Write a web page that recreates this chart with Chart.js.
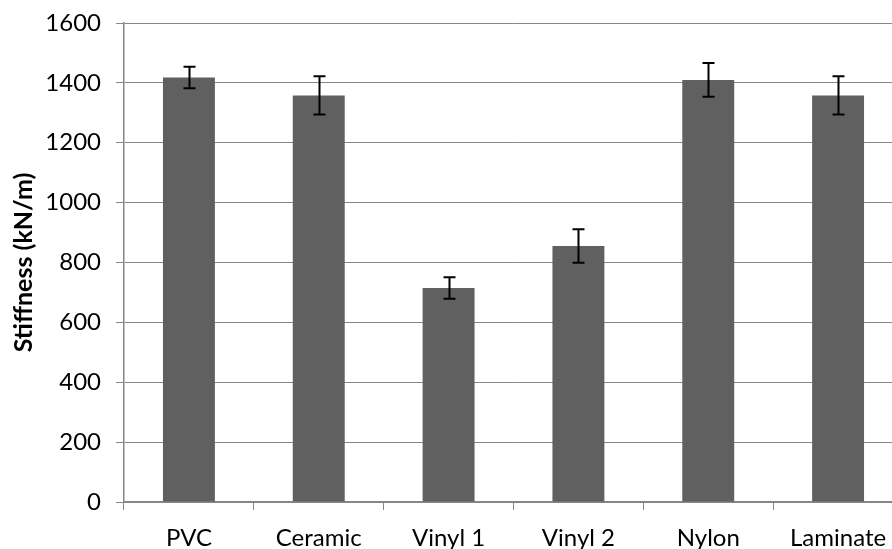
<!DOCTYPE html>
<html>
<head>
<meta charset="utf-8">
<script src="https://cdn.jsdelivr.net/npm/chart.js@4.4.0/dist/chart.umd.min.js"></script>
<style>
  html, body { margin: 0; padding: 0; background: #ffffff; overflow: hidden; }
  #wrap { width: 903px; height: 549px; }
</style>
</head>
<body>
<div id="wrap"><canvas id="c" width="903" height="549"></canvas></div>
<script>
const categories = ["PVC", "Ceramic", "Vinyl 1", "Vinyl 2", "Nylon", "Laminate"];
const stiffness = [1418, 1358, 715, 855, 1410, 1358];
const stiffnessError = [36, 64, 36, 56, 56, 64];
const yTicks = [0, 200, 400, 600, 800, 1000, 1200, 1400, 1600];
const yTitle = "Stiffness (kN/m)";

const FONT = "Lato";
const GRID = "#868686";

const errorBars = {
  id: "errorBars",
  afterDatasetsDraw(chart) {
    const ctx = chart.ctx;
    const yScale = chart.scales.y;
    chart.data.datasets.forEach((ds, di) => {
      const meta = chart.getDatasetMeta(di);
      const errs = ds.errors || [];
      meta.data.forEach((el, i) => {
        const v = ds.data[i];
        const e = errs[i];
        if (e == null) return;
        const x = Math.round(el.x) + 0.5;
        const yt = yScale.getPixelForValue(v + e);
        const yb = yScale.getPixelForValue(v - e);
        const cap = 6;
        ctx.save();
        ctx.strokeStyle = "#000000";
        ctx.lineWidth = 2;
        ctx.beginPath();
        ctx.moveTo(x, yt); ctx.lineTo(x, yb);
        ctx.moveTo(x - cap, yt); ctx.lineTo(x + cap, yt);
        ctx.moveTo(x - cap, yb); ctx.lineTo(x + cap, yb);
        ctx.stroke();
        ctx.restore();
      });
    });
  }
};

new Chart(document.getElementById("c"), {
  type: "bar",
  data: {
    labels: categories,
    datasets: [{
      data: stiffness,
      errors: stiffnessError,
      backgroundColor: "#606060",
      borderWidth: 0,
      barPercentage: 0.4,
      categoryPercentage: 1.0
    }]
  },
  plugins: [errorBars],
  options: {
    responsive: false,
    devicePixelRatio: 1,
    animation: false,
    layout: { padding: { top: 23, right: 0, bottom: 0, left: 0 } },
    plugins: {
      legend: { display: false },
      tooltip: { enabled: false }
    },
    scales: {
      x: {
        offset: true,
        grid: {
          display: true,
          offset: true,
          drawOnChartArea: false,
          drawTicks: true,
          tickLength: 8,
          color: GRID,
          lineWidth: 1
        },
        border: { display: true, color: GRID, width: 1.5 },
        ticks: {
          color: "#000000",
          font: { family: FONT, size: 24 },
          padding: 14,
          maxRotation: 0,
          autoSkip: false
        },
        afterFit(scale) { scale.height = 47; }
      },
      y: {
        min: 0,
        max: 1600,
        afterBuildTicks(scale) { scale.ticks = yTicks.map(v => ({ value: v })); },
        grid: {
          color: GRID,
          lineWidth: 1,
          drawTicks: true,
          tickLength: 8
        },
        border: { display: true, color: GRID, width: 1.5 },
        ticks: {
          color: "#000000",
          font: { family: FONT, size: 24 },
          padding: 15,
          callback: (v) => String(v)
        },
        title: {
          display: true,
          text: yTitle,
          color: "#000000",
          font: { family: FONT, size: 25, weight: "bold" },
          padding: { top: 9, bottom: 0 }
        },
        afterFit(scale) {
          scale.width = 124;
          scale.paddingTop = 0;
          scale.paddingBottom = 0;
        }
      }
    }
  }
});
</script>
</body>
</html>
